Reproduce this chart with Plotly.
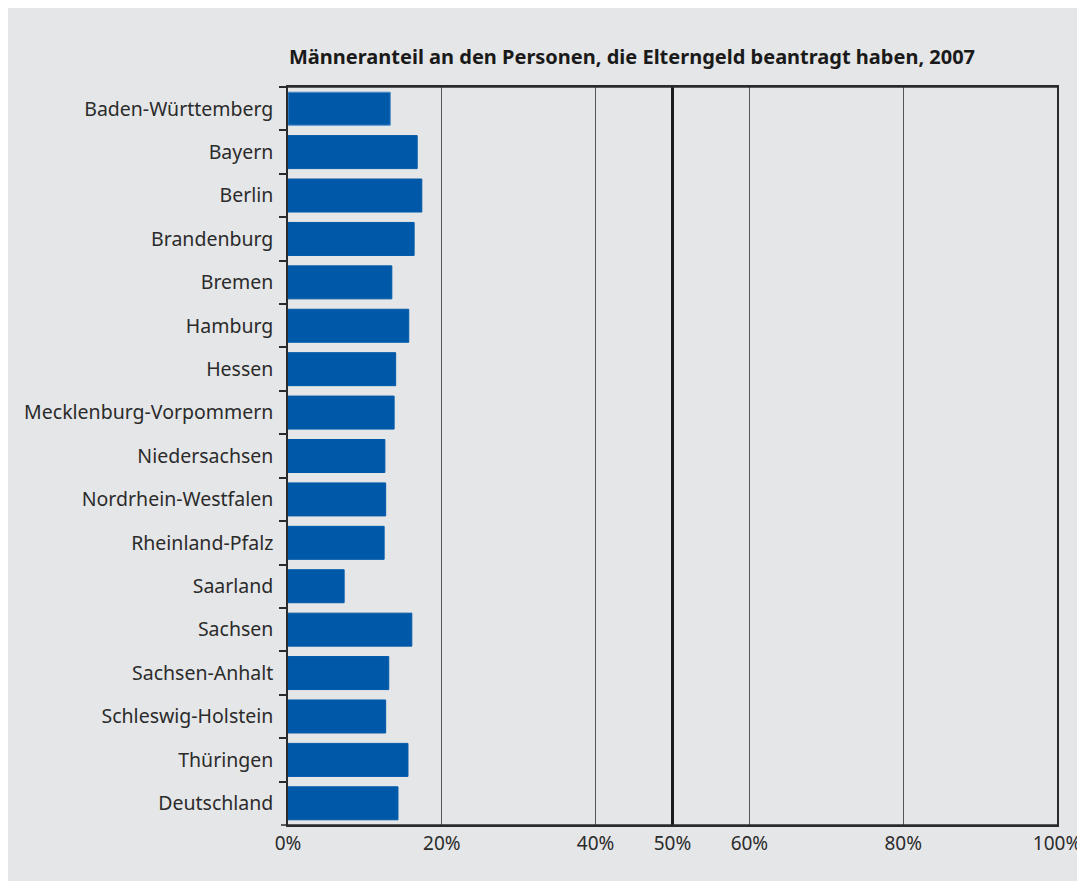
import plotly.graph_objects as go

# Data (share of men, %)
laender = ["Baden-Württemberg", "Bayern", "Berlin", "Brandenburg", "Bremen",
           "Hamburg", "Hessen", "Mecklenburg-Vorpommern", "Niedersachsen",
           "Nordrhein-Westfalen", "Rheinland-Pfalz", "Saarland", "Sachsen",
           "Sachsen-Anhalt", "Schleswig-Holstein", "Thüringen", "Deutschland"]
maenneranteil = [13.3, 16.8, 17.4, 16.4, 13.5, 15.7, 14.0, 13.8, 12.6,
                 12.7, 12.5, 7.3, 16.1, 13.1, 12.7, 15.6, 14.3]
tick_werte = [0, 20, 40, 50, 60, 80, 100]
tick_texte = ["0%", "20%", "40%", "50%", "60%", "80%", "100%"]

BLUE = "#0059a8"
GREY_BG = "#e5e6e8"
DARK = "#2b2b2b"
FONT = "Noto Sans"

# the page body adds an 8px offset, so the figure is 8px smaller
W, H = 1077, 873
L, R, T, B = 280, 28, 79, 56
pw, ph = W - L - R, H - T - B

fig = go.Figure()
fig.add_trace(go.Bar(
    x=maenneranteil,
    y=laender,
    orientation="h",
    marker=dict(color=BLUE,
                line=dict(color=["#4f8cc8"] + [BLUE] * (len(laender) - 1), width=1)),
    hoverinfo="x+y",
))

# thick 50% line
fig.add_shape(type="line", xref="x", yref="paper", x0=50, x1=50, y0=0, y1=1,
              line=dict(color="#1a1a1a", width=3))
# top / bottom frame extending slightly left of the y axis
for yy in (0, 1):
    fig.add_shape(type="line", xref="paper", yref="paper",
                  x0=-7 / pw, x1=1, y0=yy, y1=yy,
                  line=dict(color=DARK, width=1.5))

fig.update_layout(
    width=W, height=H,
    margin=dict(l=L, r=R, t=T, b=B, pad=0),
    paper_bgcolor=GREY_BG,
    plot_bgcolor=GREY_BG,
    bargap=0.24,
    showlegend=False,
    font=dict(family=FONT, size=19, color=DARK),
    title=dict(text="<b>Männeranteil an den Personen, die Elterngeld beantragt haben, 2007</b>",
               x=281 / W, xanchor="left", y=1 - 49 / H, yanchor="middle",
               font=dict(family=FONT, size=20, color="#1a1a1a")),
)
fig.update_xaxes(
    range=[0, 100], tickvals=tick_werte, ticktext=tick_texte,
    showgrid=True, gridcolor="#555555", gridwidth=1,
    showline=True, linecolor=DARK, linewidth=1.5, mirror=True,
    ticks="", zeroline=False, automargin=False, ticklabeloverflow="allow",
    tickfont=dict(size=19, color=DARK),
)
fig.update_yaxes(
    autorange="reversed", type="category",
    showgrid=False, showline=True, linecolor=DARK, linewidth=1.5, mirror=True,
    ticks="outside", tickson="boundaries", ticklen=7, tickcolor=DARK, tickwidth=1.5,
    ticklabelstandoff=9, automargin=False,
    tickfont=dict(size=19.5, color=DARK),
)

fig.write_html("out.html")
